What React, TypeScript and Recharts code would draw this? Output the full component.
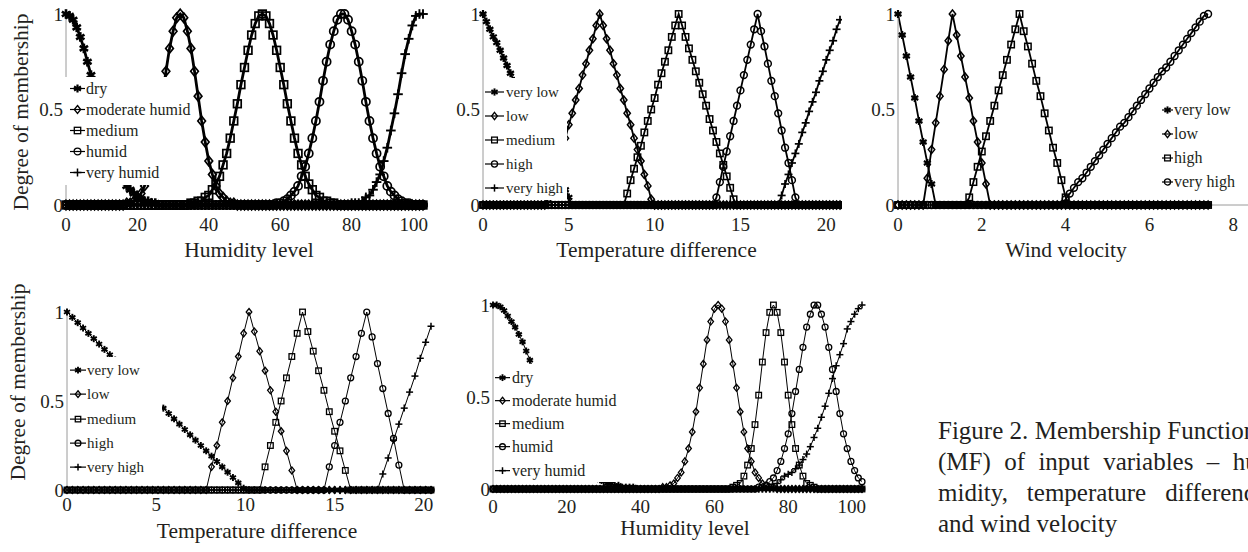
import React from 'react';
import { LineChart, Line, XAxis, YAxis, Legend } from 'recharts';

const FONT = "'Liberation Serif', 'Times New Roman', serif";
const INK = '#231f20';

// ten zero memberships, used for the long flat stretches
const Z = [0, 0, 0, 0, 0, 0, 0, 0, 0, 0];

// ---------- humidity level, 0..100 (top-left and bottom-middle) ----------
const humidityX = [
  0, 1, 2, 3, 4, 5, 6, 7, 8, 9,
  10, 11, 12, 13, 14, 15, 16, 17, 18, 19,
  20, 21, 22, 23, 24, 25, 26, 27, 28, 29,
  30, 31, 32, 33, 34, 35, 36, 37, 38, 39,
  40, 41, 42, 43, 44, 45, 46, 47, 48, 49,
  50, 51, 52, 53, 54, 55, 56, 57, 58, 59,
  60, 61, 62, 63, 64, 65, 66, 67, 68, 69,
  70, 71, 72, 73, 74, 75, 76, 77, 78, 79,
  80, 81, 82, 83, 84, 85, 86, 87, 88, 89,
  90, 91, 92, 93, 94, 95, 96, 97, 98, 99,
  100,
];
const humidityTicks = [0, 20, 40, 60, 80, 100];

const humDry = [
  1, 0.99, 0.97, 0.93, 0.88, 0.82, 0.75, 0.68, 0.6, 0.53,
  0.46, 0.39, 0.32, 0.26, 0.21, 0.17, 0.13, 0.1, 0.08, 0.06,
  0.04, 0.03, 0.02, 0.02, 0.01, 0.01, 0, 0, 0, 0,
  ...Z, ...Z, ...Z, ...Z, ...Z, ...Z, ...Z,
  0,
];
const humModerate = [
  ...Z,
  0, 0, 0, 0, 0, 0, 0, 0.01, 0.01, 0.02,
  0.04, 0.06, 0.1, 0.16, 0.23, 0.33, 0.44, 0.57, 0.7, 0.82,
  0.91, 0.98, 1, 0.98, 0.91, 0.82, 0.7, 0.57, 0.44, 0.33,
  0.23, 0.16, 0.1, 0.06, 0.04, 0.02, 0.01, 0.01, 0, 0,
  ...Z, ...Z, ...Z, ...Z, ...Z,
  0,
];
const humMedium = [
  ...Z, ...Z, ...Z,
  0, 0, 0, 0, 0, 0.01, 0.01, 0.02, 0.02, 0.04,
  0.05, 0.08, 0.11, 0.15, 0.21, 0.27, 0.35, 0.44, 0.53, 0.63,
  0.72, 0.81, 0.89, 0.95, 0.99, 1, 0.99, 0.95, 0.89, 0.81,
  0.72, 0.63, 0.53, 0.44, 0.35, 0.27, 0.21, 0.15, 0.11, 0.08,
  0.05, 0.04, 0.02, 0.02, 0.01, 0.01, 0, 0, 0, 0,
  ...Z, ...Z,
  0,
];
const humHumid = [
  ...Z, ...Z, ...Z, ...Z, ...Z,
  0, 0, 0, 0, 0, 0, 0, 0, 0, 0.01,
  0.01, 0.02, 0.03, 0.05, 0.07, 0.1, 0.15, 0.2, 0.27, 0.35,
  0.44, 0.54, 0.65, 0.75, 0.84, 0.91, 0.97, 1, 1, 0.97,
  0.91, 0.84, 0.75, 0.65, 0.54, 0.44, 0.35, 0.27, 0.2, 0.15,
  0.1, 0.07, 0.05, 0.03, 0.02, 0.01, 0.01, 0, 0, 0,
  0,
];
const humVeryHumid = [
  ...Z, ...Z, ...Z, ...Z, ...Z, ...Z, ...Z, ...Z,
  0.01, 0.01, 0.01, 0.02, 0.04, 0.05, 0.08, 0.12, 0.16, 0.23,
  0.3, 0.39, 0.48, 0.58, 0.69, 0.79, 0.87, 0.94, 0.99, 1,
  1,
];

// bottom-middle humidity panel
const hum2Dry = [
  1, 1, 0.99, 0.97, 0.94, 0.91, 0.88, 0.84, 0.8, 0.75,
  0.7, 0.65, 0.6, 0.55, 0.5, 0.45, 0.4, 0.36, 0.31, 0.28,
  0.24, 0.21, 0.18, 0.15, 0.13, 0.11, 0.09, 0.07, 0.06, 0.05,
  0.04, 0.03, 0.03, 0.02, 0.02, 0.01, 0.01, 0.01, 0.01, 0,
  ...Z, ...Z, ...Z, ...Z, ...Z, ...Z,
  0,
];
const hum2Moderate = [
  ...Z, ...Z, ...Z, ...Z,
  0, 0, 0, 0, 0, 0, 0.01, 0.01, 0.02, 0.03,
  0.06, 0.09, 0.15, 0.22, 0.31, 0.42, 0.55, 0.68, 0.81, 0.91,
  0.98, 1, 0.98, 0.91, 0.81, 0.68, 0.55, 0.42, 0.31, 0.22,
  0.15, 0.09, 0.06, 0.03, 0.02, 0.01, 0.01, 0, 0, 0,
  ...Z, ...Z,
  0,
];
const hum2Medium = [
  ...Z, ...Z, ...Z, ...Z, ...Z, ...Z,
  0, 0, 0, 0, 0, 0.01, 0.02, 0.03, 0.07, 0.13,
  0.22, 0.35, 0.51, 0.69, 0.85, 0.96, 1, 0.96, 0.85, 0.69,
  0.51, 0.35, 0.22, 0.13, 0.07, 0.03, 0.02, 0.01, 0, 0,
  ...Z,
  0,
];
const hum2Humid = [
  ...Z, ...Z, ...Z, ...Z, ...Z, ...Z, ...Z,
  0, 0, 0.01, 0.01, 0.02, 0.04, 0.06, 0.1, 0.15, 0.22,
  0.3, 0.41, 0.53, 0.65, 0.77, 0.88, 0.95, 1, 1, 0.95,
  0.88, 0.77, 0.65, 0.53, 0.41, 0.3, 0.22, 0.15, 0.1, 0.06,
  0.04,
];
const hum2VeryHumid = [
  ...Z, ...Z, ...Z, ...Z, ...Z, ...Z, ...Z,
  0, 0, 0, 0, 0, 0, 0.01, 0.03, 0.05, 0.07,
  0.08, 0.09, 0.11, 0.13, 0.16, 0.19, 0.23, 0.28, 0.33, 0.39,
  0.45, 0.52, 0.6, 0.67, 0.73, 0.79, 0.87, 0.91, 0.95, 0.98,
  1,
];

// ---------- temperature difference, top-middle (step 0.2) ----------
const tempX = [
  0, 0.2, 0.4, 0.6, 0.8, 1, 1.2, 1.4, 1.6, 1.8,
  2, 2.2, 2.4, 2.6, 2.8, 3, 3.2, 3.4, 3.6, 3.8,
  4, 4.2, 4.4, 4.6, 4.8, 5, 5.2, 5.4, 5.6, 5.8,
  6, 6.2, 6.4, 6.6, 6.8, 7, 7.2, 7.4, 7.6, 7.8,
  8, 8.2, 8.4, 8.6, 8.8, 9, 9.2, 9.4, 9.6, 9.8,
  10, 10.2, 10.4, 10.6, 10.8, 11, 11.2, 11.4, 11.6, 11.8,
  12, 12.2, 12.4, 12.6, 12.8, 13, 13.2, 13.4, 13.6, 13.8,
  14, 14.2, 14.4, 14.6, 14.8, 15, 15.2, 15.4, 15.6, 15.8,
  16, 16.2, 16.4, 16.6, 16.8, 17, 17.2, 17.4, 17.6, 17.8,
  18, 18.2, 18.4, 18.6, 18.8, 19, 19.2, 19.4, 19.6, 19.8,
  20, 20.2, 20.4, 20.6, 20.8,
];
const tempTicks = [0, 5, 10, 15, 20];

const tdVeryLow = [
  1, 0.96, 0.92, 0.88, 0.85, 0.81, 0.77, 0.73, 0.69, 0.65,
  0.62, 0.58, 0.54, 0.5, 0.46, 0.42, 0.38, 0.35, 0.31, 0.27,
  0.23, 0.19, 0.15, 0.12, 0.08, 0.04, 0, 0, 0, 0,
  ...Z, ...Z, ...Z, ...Z, ...Z, ...Z, ...Z,
  0, 0, 0, 0, 0,
];
const tdLow = [
  ...Z,
  0, 0, 0, 0, 0, 0, 0, 0, 0, 0.03,
  0.1, 0.16, 0.23, 0.29, 0.35, 0.42, 0.48, 0.55, 0.61, 0.68,
  0.74, 0.81, 0.87, 0.94, 1, 0.94, 0.87, 0.81, 0.74, 0.68,
  0.61, 0.55, 0.48, 0.42, 0.35, 0.29, 0.23, 0.16, 0.1, 0.03,
  ...Z, ...Z, ...Z, ...Z, ...Z,
  0, 0, 0, 0, 0,
];
const tdMedium = [
  ...Z, ...Z, ...Z, ...Z,
  0, 0, 0.06, 0.13, 0.19, 0.25, 0.31, 0.38, 0.44, 0.5,
  0.56, 0.63, 0.69, 0.75, 0.81, 0.88, 0.94, 1, 0.94, 0.88,
  0.82, 0.76, 0.7, 0.64, 0.58, 0.52, 0.45, 0.39, 0.33, 0.27,
  0.21, 0.15, 0.09, 0.03, 0, 0, 0, 0, 0, 0,
  ...Z, ...Z,
  0, 0, 0, 0, 0,
];
const tdHigh = [
  ...Z, ...Z, ...Z, ...Z, ...Z, ...Z,
  0, 0, 0, 0, 0, 0, 0, 0, 0.04, 0.12,
  0.2, 0.28, 0.36, 0.44, 0.52, 0.6, 0.68, 0.76, 0.84, 0.92,
  1, 0.91, 0.83, 0.74, 0.65, 0.57, 0.48, 0.39, 0.3, 0.22,
  0.13, 0.04, 0, 0, 0, 0, 0, 0, 0, 0,
  0, 0, 0, 0, 0,
];
const tdVeryHigh = [
  ...Z, ...Z, ...Z, ...Z, ...Z, ...Z, ...Z, ...Z,
  0, 0, 0, 0, 0, 0, 0, 0.05, 0.11, 0.16,
  0.22, 0.27, 0.32, 0.38, 0.43, 0.49, 0.54, 0.59, 0.65, 0.7,
  0.76, 0.81, 0.86, 0.92, 0.97,
];

// ---------- wind velocity, top-right (step 0.1) ----------
const windX = [
  0, 0.1, 0.2, 0.3, 0.4, 0.5, 0.6, 0.7, 0.8, 0.9,
  1, 1.1, 1.2, 1.3, 1.4, 1.5, 1.6, 1.7, 1.8, 1.9,
  2, 2.1, 2.2, 2.3, 2.4, 2.5, 2.6, 2.7, 2.8, 2.9,
  3, 3.1, 3.2, 3.3, 3.4, 3.5, 3.6, 3.7, 3.8, 3.9,
  4, 4.1, 4.2, 4.3, 4.4, 4.5, 4.6, 4.7, 4.8, 4.9,
  5, 5.1, 5.2, 5.3, 5.4, 5.5, 5.6, 5.7, 5.8, 5.9,
  6, 6.1, 6.2, 6.3, 6.4, 6.5, 6.6, 6.7, 6.8, 6.9,
  7, 7.1, 7.2, 7.3, 7.4,
];
const windTicks = [0, 2, 4, 6, 8];

const wVeryLow = [
  1, 0.89, 0.78, 0.67, 0.56, 0.44, 0.33, 0.22, 0.11, 0,
  ...Z, ...Z, ...Z, ...Z, ...Z, ...Z,
  0, 0, 0, 0, 0,
];
const wLow = [
  0, 0, 0, 0, 0, 0, 0, 0.14, 0.29, 0.43,
  0.57, 0.71, 0.86, 1, 0.89, 0.78, 0.67, 0.56, 0.44, 0.33,
  0.22, 0.11, 0, 0, 0, 0, 0, 0, 0, 0,
  ...Z, ...Z, ...Z, ...Z,
  0, 0, 0, 0, 0,
];
const wHigh = [
  ...Z,
  0, 0, 0, 0, 0, 0, 0, 0.04, 0.12, 0.2,
  0.28, 0.36, 0.44, 0.52, 0.6, 0.68, 0.76, 0.84, 0.92, 1,
  0.91, 0.83, 0.74, 0.65, 0.57, 0.48, 0.39, 0.3, 0.22, 0.13,
  0.04, 0, 0, 0, 0, 0, 0, 0, 0, 0,
  ...Z, ...Z,
  0, 0, 0, 0, 0,
];
const wVeryHigh = [
  ...Z, ...Z, ...Z, ...Z,
  0.03, 0.06, 0.09, 0.12, 0.14, 0.17, 0.2, 0.23, 0.26, 0.29,
  0.32, 0.35, 0.38, 0.41, 0.43, 0.46, 0.49, 0.52, 0.55, 0.58,
  0.61, 0.64, 0.67, 0.7, 0.72, 0.75, 0.78, 0.81, 0.84, 0.87,
  0.9, 0.93, 0.96, 0.99, 1,
];

// ---------- temperature difference, bottom-left (step 0.3) ----------
const temp2X = [
  0, 0.3, 0.6, 0.9, 1.2, 1.5, 1.8, 2.1, 2.4, 2.7,
  3, 3.3, 3.6, 3.9, 4.2, 4.5, 4.8, 5.1, 5.4, 5.7,
  6, 6.3, 6.6, 6.9, 7.2, 7.5, 7.8, 8.1, 8.4, 8.7,
  9, 9.3, 9.6, 9.9, 10.2, 10.5, 10.8, 11.1, 11.4, 11.7,
  12, 12.3, 12.6, 12.9, 13.2, 13.5, 13.8, 14.1, 14.4, 14.7,
  15, 15.3, 15.6, 15.9, 16.2, 16.5, 16.8, 17.1, 17.4, 17.7,
  18, 18.3, 18.6, 18.9, 19.2, 19.5, 19.8, 20.1, 20.4,
];
const t2VeryLow = [
  1, 0.97, 0.94, 0.91, 0.88, 0.85, 0.82, 0.79, 0.76, 0.73,
  0.7, 0.67, 0.64, 0.61, 0.58, 0.55, 0.52, 0.49, 0.46, 0.43,
  0.4, 0.37, 0.34, 0.31, 0.28, 0.25, 0.22, 0.19, 0.16, 0.13,
  0.1, 0.07, 0.04, 0.01, 0, 0, 0, 0, 0, 0,
  ...Z, ...Z,
  0, 0, 0, 0, 0, 0, 0, 0, 0,
];
const t2Low = [
  ...Z, ...Z,
  0, 0, 0, 0, 0, 0, 0, 0.13, 0.25, 0.38,
  0.5, 0.63, 0.75, 0.88, 1, 0.89, 0.78, 0.67, 0.56, 0.44,
  0.33, 0.22, 0.11, 0, 0, 0, 0, 0, 0, 0,
  ...Z,
  0, 0, 0, 0, 0, 0, 0, 0, 0,
];
const t2Medium = [
  ...Z, ...Z, ...Z,
  0, 0, 0, 0, 0, 0, 0, 0.13, 0.25, 0.38,
  0.5, 0.63, 0.75, 0.88, 1, 0.89, 0.78, 0.67, 0.56, 0.44,
  0.33, 0.22, 0.11, 0, 0, 0, 0, 0, 0, 0,
  0, 0, 0, 0, 0, 0, 0, 0, 0,
];
const t2High = [
  ...Z, ...Z, ...Z, ...Z,
  0, 0, 0, 0, 0, 0, 0, 0, 0, 0.13,
  0.25, 0.38, 0.5, 0.63, 0.75, 0.88, 1, 0.86, 0.71, 0.57,
  0.43, 0.29, 0.14, 0, 0, 0, 0, 0, 0,
];
const t2VeryHigh = [
  ...Z, ...Z, ...Z, ...Z, ...Z,
  0, 0, 0, 0, 0, 0, 0, 0, 0, 0.09,
  0.18, 0.28, 0.37, 0.46, 0.55, 0.64, 0.74, 0.83, 0.92,
];

const membershipTicks = [0, 0.5, 1];

type Shape = 'star' | 'diamond' | 'square' | 'circle' | 'plus';
interface Series { key: string; name: string; shape: Shape }

const humiditySeries: Series[] = [
  { key: 'dry', name: 'dry', shape: 'star' },
  { key: 'moderate', name: 'moderate humid', shape: 'diamond' },
  { key: 'medium', name: 'medium', shape: 'square' },
  { key: 'humid', name: 'humid', shape: 'circle' },
  { key: 'veryHumid', name: 'very humid', shape: 'plus' },
];
const tempSeries: Series[] = [
  { key: 'veryLow', name: 'very low', shape: 'star' },
  { key: 'low', name: 'low', shape: 'diamond' },
  { key: 'medium', name: 'medium', shape: 'square' },
  { key: 'high', name: 'high', shape: 'circle' },
  { key: 'veryHigh', name: 'very high', shape: 'plus' },
];
const windSeries: Series[] = [
  { key: 'veryLow', name: 'very low', shape: 'star' },
  { key: 'low', name: 'low', shape: 'diamond' },
  { key: 'high', name: 'high', shape: 'square' },
  { key: 'veryHigh', name: 'very high', shape: 'circle' },
];

const humTopRows = humidityX.map((x, i) => ({
  x, dry: humDry[i], moderate: humModerate[i], medium: humMedium[i], humid: humHumid[i], veryHumid: humVeryHumid[i],
}));
const humBottomRows = humidityX.map((x, i) => ({
  x, dry: hum2Dry[i], moderate: hum2Moderate[i], medium: hum2Medium[i], humid: hum2Humid[i], veryHumid: hum2VeryHumid[i],
}));
const tempTopRows = tempX.map((x, i) => ({
  x, veryLow: tdVeryLow[i], low: tdLow[i], medium: tdMedium[i], high: tdHigh[i], veryHigh: tdVeryHigh[i],
}));
const windRows = windX.map((x, i) => ({
  x, veryLow: wVeryLow[i], low: wLow[i], high: wHigh[i], veryHigh: wVeryHigh[i],
}));
const tempBottomRows = temp2X.map((x, i) => ({
  x, veryLow: t2VeryLow[i], low: t2Low[i], medium: t2Medium[i], high: t2High[i], veryHigh: t2VeryHigh[i],
}));

// hollow markers, the connecting line shows through them like in the print
function Marker({ shape, cx, cy, r, sw = 1.3 }: { shape: Shape; cx: number; cy: number; r: number; sw?: number }) {
  if (shape === 'star') {
    const a = r * 0.87;
    const b = r * 0.5;
    return (
      <g stroke="#000" strokeWidth={r * 0.55}>
        <line x1={cx} y1={cy - r} x2={cx} y2={cy + r} />
        <line x1={cx - a} y1={cy - b} x2={cx + a} y2={cy + b} />
        <line x1={cx - a} y1={cy + b} x2={cx + a} y2={cy - b} />
      </g>
    );
  }
  if (shape === 'diamond') {
    const w = r * 0.8;
    return <polygon points={`${cx},${cy - r} ${cx + w},${cy} ${cx},${cy + r} ${cx - w},${cy}`} fill="none" stroke="#000" strokeWidth={sw} />;
  }
  if (shape === 'square') {
    const h = r * 0.8;
    return <rect x={cx - h} y={cy - h} width={h * 2} height={h * 2} fill="none" stroke="#000" strokeWidth={sw} />;
  }
  if (shape === 'circle') {
    return <circle cx={cx} cy={cy} r={r * 0.85} fill="none" stroke="#000" strokeWidth={sw} />;
  }
  return (
    <g stroke="#000" strokeWidth={sw + 0.2}>
      <line x1={cx} y1={cy - r} x2={cx} y2={cy + r} />
      <line x1={cx - r} y1={cy} x2={cx + r} y2={cy} />
    </g>
  );
}

interface LegendBox {
  left: number; top: number; width: number; height: number;
  padTop: number; padLeft: number; rowH: number; iconW: number; gap: number;
  fontSize: number; bg: string; r: number;
}

function MfLegend({ items, box }: { items: Series[]; box: LegendBox }) {
  return (
    <div style={{ width: box.width, height: box.height, background: box.bg, paddingTop: box.padTop, paddingLeft: box.padLeft, boxSizing: 'border-box' }}>
      {items.map((s) => (
        <div key={s.key} style={{ display: 'flex', alignItems: 'center', height: box.rowH, whiteSpace: 'nowrap' }}>
          <svg width={box.iconW} height={box.rowH} style={{ flex: 'none' }}>
            <line x1={0} x2={box.iconW} y1={box.rowH / 2} y2={box.rowH / 2} stroke="#000" strokeWidth={1.2} />
            <Marker shape={s.shape} cx={box.iconW / 2} cy={box.rowH / 2} r={box.r} />
          </svg>
          <span style={{ marginLeft: box.gap, fontFamily: FONT, fontSize: box.fontSize, color: INK, lineHeight: `${box.rowH}px` }}>{s.name}</span>
        </div>
      ))}
    </div>
  );
}

interface PanelProps {
  left: number; top: number; width: number; height: number;
  marginTop: number; marginRight: number; yWidth: number;
  rows: any[]; series: Series[];
  xDomain: [number, number]; xTicks: number[]; xTickMargin: number;
  r: number; markerStroke: number; lineWidth: number;
  xTitle: string; xTitleDx: number; xTitleDy: number;
  yTitle?: { cx: number; cy: number };
  legend: LegendBox;
}

function Panel(p: PanelProps) {
  const tick = { fontSize: 19, fontFamily: FONT, fill: INK };
  return (
    <div style={{ position: 'absolute', left: p.left, top: p.top }}>
      <LineChart width={p.width} height={p.height} data={p.rows} margin={{ top: p.marginTop, right: p.marginRight, bottom: 0, left: 0 }}>
        <XAxis
          dataKey="x"
          type="number"
          domain={p.xDomain}
          ticks={p.xTicks}
          height={60}
          tickLine={false}
          tickMargin={p.xTickMargin}
          axisLine={{ stroke: '#9a9a9a', strokeWidth: 1 }}
          tick={tick}
          label={(lp: any) => {
            const vb = lp.viewBox;
            return (
              <text x={vb.x + vb.width / 2 + p.xTitleDx} y={vb.y + p.xTitleDy} textAnchor="middle" dominantBaseline="central" fontFamily={FONT} fontSize={21.5} fill={INK}>
                {p.xTitle}
              </text>
            );
          }}
        />
        <YAxis
          type="number"
          domain={[0, 1]}
          ticks={membershipTicks}
          width={p.yWidth}
          tickLine={false}
          tickSize={1}
          tickMargin={2}
          axisLine={{ stroke: '#9a9a9a', strokeWidth: 1 }}
          tick={tick}
          label={p.yTitle ? () => (
            <text x={p.yTitle!.cx} y={p.yTitle!.cy} transform={`rotate(-90 ${p.yTitle!.cx} ${p.yTitle!.cy})`} textAnchor="middle" dominantBaseline="central" fontFamily={FONT} fontSize={21.5} fill={INK}>
              Degree of membership
            </text>
          ) : undefined}
        />
        {p.series.map((s) => (
          <Line
            key={s.key}
            dataKey={s.key}
            name={s.name}
            type="linear"
            stroke="#000"
            strokeWidth={p.lineWidth}
            isAnimationActive={false}
            activeDot={false}
            dot={(d: any) => <Marker key={`${s.key}-${d.index}`} shape={s.shape} cx={d.cx} cy={d.cy} r={p.r} sw={p.markerStroke} />}
          />
        ))}
        <Legend
          layout="vertical"
          align="center"
          verticalAlign="middle"
          wrapperStyle={{ left: p.legend.left, top: p.legend.top, width: p.legend.width, height: p.legend.height }}
          content={() => <MfLegend items={p.series} box={p.legend} />}
        />
      </LineChart>
    </div>
  );
}

export default function App() {
  return (
    <div style={{ position: 'absolute', left: 0, top: 0, width: 1248, height: 552, overflow: 'hidden', background: '#fff' }}>
      <Panel
        left={0} top={0} width={428} height={265} marginTop={14} marginRight={5} yWidth={66}
        rows={humTopRows} series={humiditySeries}
        xDomain={[0, 100]} xTicks={humidityTicks} xTickMargin={7} r={4.8} markerStroke={1.7} lineWidth={2.8}
        xTitle="Humidity level" xTitleDx={4.5} xTitleDy={45}
        yTitle={{ cx: 21, cy: 112 }}
        legend={{ left: 65, top: 77, width: 125, height: 108, padTop: 0.5, padLeft: 5, rowH: 21, iconW: 15, gap: 1, fontSize: 16, bg: '#fff', r: 4 }}
      />
      <Panel
        left={430} top={0} width={412} height={265} marginTop={14} marginRight={2} yWidth={53}
        rows={tempTopRows} series={tempSeries}
        xDomain={[0, 20.8]} xTicks={tempTicks} xTickMargin={7} r={4} markerStroke={1.5} lineWidth={1.8}
        xTitle="Temperature difference" xTitleDx={-5} xTitleDy={45}
        legend={{ left: 54, top: 78, width: 83, height: 122, padTop: 2, padLeft: 1, rowH: 24, iconW: 19, gap: 2, fontSize: 15, bg: '#fff', r: 3.6 }}
      />
      <Panel
        left={850} top={0} width={402} height={265} marginTop={14} marginRight={2} yWidth={48}
        rows={windRows} series={windSeries}
        xDomain={[0, 8.4]} xTicks={windTicks} xTickMargin={7} r={4} markerStroke={1.5} lineWidth={1.8}
        xTitle="Wind velocity" xTitleDx={-8} xTitleDy={45}
        legend={{ left: 310, top: 98, width: 88, height: 96, padTop: 0, padLeft: 2, rowH: 24, iconW: 11, gap: 1, fontSize: 16, bg: 'transparent', r: 3.6 }}
      />
      <Panel
        left={0} top={270} width={435} height={280} marginTop={42} marginRight={4} yWidth={67}
        rows={tempBottomRows} series={tempSeries}
        xDomain={[0, 20.4]} xTicks={tempTicks} xTickMargin={2} r={3.5} markerStroke={1.3} lineWidth={1}
        xTitle="Temperature difference" xTitleDx={8} xTitleDy={41}
        yTitle={{ cx: 18, cy: 112 }}
        legend={{ left: 68, top: 87, width: 94, height: 123, padTop: 1, padLeft: 2, rowH: 24.25, iconW: 16, gap: 1, fontSize: 15, bg: '#fff', r: 3.4 }}
      />
      <Panel
        left={440} top={291} width={426} height={258} marginTop={14} marginRight={4} yWidth={53}
        rows={humBottomRows} series={humiditySeries}
        xDomain={[0, 100]} xTicks={humidityTicks} xTickMargin={5} r={3.5} markerStroke={1.3} lineWidth={1}
        xTitle="Humidity level" xTitleDx={7.5} xTitleDy={38.5}
        legend={{ left: 54, top: 73, width: 123, height: 118, padTop: 1.5, padLeft: 1, rowH: 23.3, iconW: 15, gap: 2, fontSize: 16, bg: '#fff', r: 3.4 }}
      />
      <div style={{ position: 'absolute', left: 938, top: 415, width: 328, fontFamily: FONT, fontSize: 25, lineHeight: '31px', color: INK }}>
        <div style={{ textAlign: 'justify', textAlignLast: 'justify', whiteSpace: 'nowrap' }}>Figure 2. Membership Functions</div>
        <div style={{ textAlign: 'justify', textAlignLast: 'justify' }}>(MF) of input variables – hu-</div>
        <div style={{ textAlign: 'justify', textAlignLast: 'justify' }}>midity, temperature difference</div>
        <div>and wind velocity</div>
      </div>
    </div>
  );
}
